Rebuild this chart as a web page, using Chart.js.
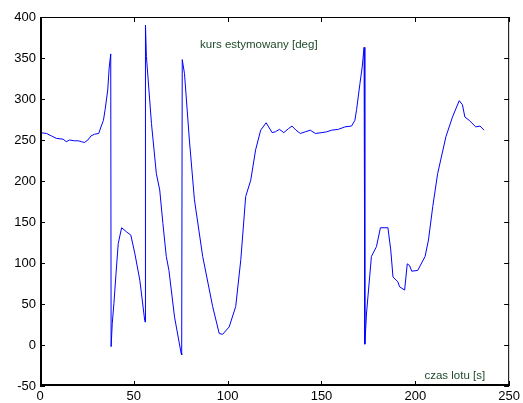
<!DOCTYPE html>
<html>
<head>
<meta charset="utf-8">
<script src="https://cdn.jsdelivr.net/npm/chart.js@4/dist/chart.umd.min.js"></script>
<style>
  html, body { margin: 0; padding: 0; background: #fff; overflow: hidden; }
  #wrap { width: 523px; height: 403px; }
  canvas { display: block; }
</style>
</head>
<body>
<div id="wrap"><canvas id="kurs" width="523" height="403"></canvas></div>
<script>
// czas lotu [s]
const czas = [0, 3.4, 6.1, 8.7, 12.3, 14, 15.8, 18.4, 20.5, 22, 23.7, 25.5, 27.2, 29, 31.3, 32.5, 33.8,
  34.7, 36.1, 36.9, 37.7, 37.9, 38.5, 39.4, 40.5, 41.7, 43.5, 46.1, 48.4, 50.5, 53.2, 55.8, 56.0,
  56.2, 56.7, 59.4, 62, 63.8, 65.5, 67.3, 68.7, 71.7, 75.2, 75.5, 75.8, 77, 79.6, 82.3, 86.7, 92,
  95.5, 97.3, 100.8, 104.3, 107, 109.6, 112.3, 114.9, 117.6, 120.5, 123.7, 125.4, 127.6, 129.9,
  132.5, 134.3, 136.4, 138.7, 141.4, 144, 146.7, 150.2, 152.8, 155.5, 159, 162.5, 166, 167.8,
  168.7, 170.5, 171.7, 172.7, 173.1, 174, 176.6, 179.3, 181.4, 185.4, 186.9, 188.1, 190.7, 191.6,
  194.3, 195.7, 196.9, 198.1, 201.3, 205.2, 207, 209.3, 211.9, 216.3, 219.8, 223.4, 225.1, 226.4,
  228.7, 232.2, 234.5, 236.6]
// kurs estymowany [deg]
const kurs = [259, 258, 255, 252, 251, 248, 250, 249, 249, 248, 247, 250, 255, 257, 258, 266, 274,
  287, 311, 339, 355, -2, 26, 51, 87, 124, 143, 138, 134, 112, 79, 30, 28,
  390, 352, 270, 209, 189, 148, 108, 91, 34, -10, -12, 348, 331, 250, 177, 108, 47,
  14, 13, 22, 47, 104, 181, 201, 238, 262, 271, 259, 260, 263, 259,
  264, 267, 262, 258, 260, 262, 258, 259, 260, 262, 263, 266, 267, 274,
  287, 319, 339, 363, 1, 39, 108, 120, 143, 143, 116, 83, 77, 71,
  67, 99, 97, 90, 91, 108, 128, 169, 209, 254, 278, 298, 293, 278,
  274, 266, 267, 262]

const xTicks = [0, 50, 100, 150, 200, 250]
const yTicks = [-50, 0, 50, 100, 150, 200, 250, 300, 350, 400]

const points = czas.map((t, i) => ({x: t, y: kurs[i]}))

// matlab-like box with inward ticks and labels inside the axes
const matlabBox = {
  id: 'matlabBox',
  afterDraw(chart) {
    const {ctx, chartArea: a, scales} = chart
    ctx.save()
    ctx.strokeStyle = '#000'
    ctx.lineWidth = 1
    ctx.strokeRect(a.left + 0.5, a.top + 0.5, a.right - a.left - 1, a.bottom - a.top - 1)
    ctx.lineWidth = 2
    ctx.beginPath()
    ctx.moveTo(a.left + 1, a.top)
    ctx.lineTo(a.left + 1, a.bottom - 1)
    ctx.lineTo(a.right, a.bottom - 1)
    ctx.stroke()
    ctx.lineWidth = 1
    ctx.beginPath()
    xTicks.forEach(v => {
      const px = Math.round(scales.x.getPixelForValue(v)) + 0.5
      ctx.moveTo(px, a.bottom); ctx.lineTo(px, a.bottom - 5)
      ctx.moveTo(px, a.top); ctx.lineTo(px, a.top + 5)
    })
    yTicks.forEach(v => {
      const py = Math.round(scales.y.getPixelForValue(v)) + 0.5
      ctx.moveTo(a.left, py); ctx.lineTo(a.left + 5, py)
      ctx.moveTo(a.right, py); ctx.lineTo(a.right - 5, py)
    })
    ctx.stroke()
    ctx.fillStyle = '#1f4a2a'
    ctx.font = '11.5px "Liberation Sans", Arial, sans-serif'
    ctx.textBaseline = 'middle'
    ctx.textAlign = 'left'
    ctx.fillText('kurs estymowany [deg]', 200, a.top + 28)
    ctx.textAlign = 'right'
    ctx.fillText('czas lotu [s]', a.right - 24, a.bottom - 10)
    ctx.restore()
  }
}

new Chart('kurs', {
  type: 'scatter',
  data: {
    datasets: [{
      data: points,
      showLine: true,
      borderColor: '#0000ff',
      borderWidth: 1,
      pointRadius: 0,
      tension: 0
    }]
  },
  options: {
    responsive: false,
    animation: false,
    layout: {padding: {top: 17, right: 11, left: 0, bottom: 0}},
    plugins: {legend: {display: false}, tooltip: {enabled: false}},
    scales: {
      x: {
        type: 'linear', min: 0, max: 250,
        afterFit: s => { s.height = 17 },
        afterBuildTicks: s => { s.ticks = xTicks.map(v => ({value: v})) },
        grid: {display: false, drawTicks: false},
        border: {display: false},
        ticks: {color: '#000', padding: 3, maxRotation: 0, font: {size: 13, family: '"Liberation Sans", Arial, sans-serif'}}
      },
      y: {
        min: -50, max: 400,
        afterFit: s => { s.width = 40 },
        afterBuildTicks: s => { s.ticks = yTicks.map(v => ({value: v})) },
        grid: {display: false, drawTicks: false},
        border: {display: false},
        ticks: {color: '#000', padding: 4, font: {size: 13, family: '"Liberation Sans", Arial, sans-serif'}}
      }
    }
  },
  plugins: [matlabBox]
})
</script>
</body>
</html>
